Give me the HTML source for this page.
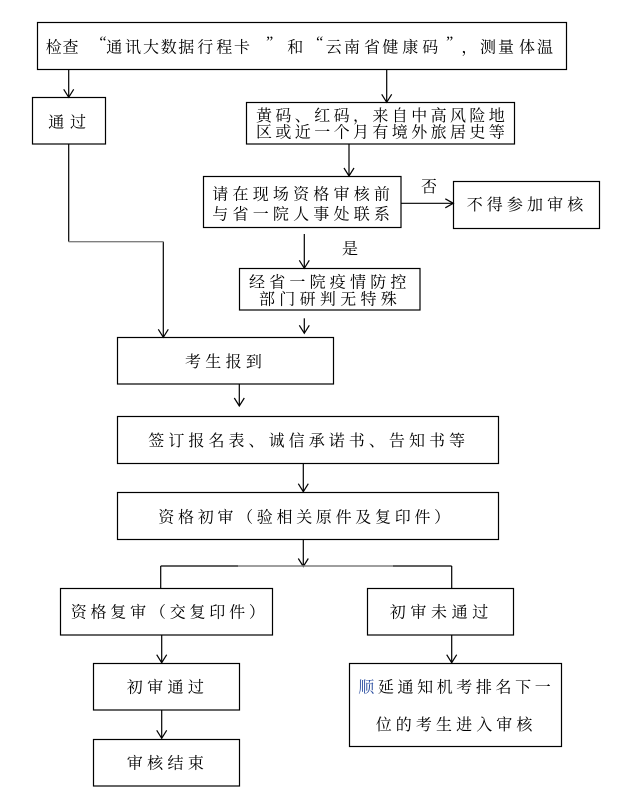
<!DOCTYPE html>
<html><head><meta charset="utf-8"><style>
html,body{margin:0;padding:0;background:#fff;}
svg{display:block;}
text{font-family:"Noto Serif CJK SC","Liberation Serif",serif;font-size:16px;fill:#000;}
.q{font-family:"Liberation Serif",serif;font-size:16px;}
</style></head><body>
<svg width="631" height="805" viewBox="0 0 631 805" xmlns="http://www.w3.org/2000/svg">
<g fill="none" stroke="#000" stroke-width="1.2">
<!-- boxes -->
<rect x="37.5" y="22.5" width="529" height="47"/>
<rect x="32.5" y="97.5" width="73" height="46.5"/>
<rect x="246.5" y="102.5" width="268" height="41.5"/>
<rect x="203.5" y="176.5" width="197.5" height="51"/>
<rect x="453.5" y="181.5" width="146" height="47"/>
<rect x="239.5" y="268.5" width="180.5" height="41.5"/>
<rect x="117.5" y="337.5" width="216" height="46.5"/>
<rect x="117.5" y="416.5" width="381" height="47"/>
<rect x="117.5" y="492.5" width="381" height="47"/>
<rect x="60.5" y="588.5" width="212" height="46.5"/>
<rect x="367.5" y="588.5" width="146" height="46.5"/>
<rect x="93.5" y="663.5" width="146" height="46.5"/>
<rect x="93.5" y="739.5" width="146" height="46.5"/>
<rect x="349.5" y="663.5" width="212" height="83"/>

<!-- connectors -->
<line x1="68.7" y1="69.5" x2="68.7" y2="97.3"/>
<polyline points="63.7,89.3 68.7,97.3 73.7,89.3"/>
<line x1="386.7" y1="69.5" x2="386.7" y2="102.3"/>
<polyline points="381.7,94.3 386.7,102.3 391.7,94.3"/>
<line x1="349" y1="144" x2="349" y2="176"/>
<polyline points="344,168 349,176 354,168"/>
<line x1="401" y1="203.3" x2="453.3" y2="203.3"/>
<polyline points="445.3,198.8 453.3,203.3 445.3,207.8"/>
<line x1="304.3" y1="234" x2="304.3" y2="268.3"/>
<polyline points="299.3,260.3 304.3,268.3 309.3,260.3"/>
<line x1="304.3" y1="318.3" x2="304.3" y2="333.3"/>
<polyline points="299.3,325.3 304.3,333.3 309.3,325.3"/>
<line x1="68.7" y1="144" x2="68.7" y2="241.7"/>
<line x1="163.3" y1="241.7" x2="163.3" y2="337.3"/>
<polyline points="158.3,329.3 163.3,337.3 168.3,329.3"/>
<line x1="239.3" y1="384" x2="239.3" y2="406"/>
<polyline points="234.3,398 239.3,406 244.3,398"/>
<line x1="303.3" y1="463.3" x2="303.3" y2="491.7"/>
<polyline points="298.3,483.7 303.3,491.7 308.3,483.7"/>
<line x1="303.3" y1="539.3" x2="303.3" y2="566.5"/>
<polyline points="298.3,558.5 303.3,566.5 308.3,558.5"/>
<line x1="160.7" y1="566" x2="238" y2="566"/>
<line x1="392.7" y1="566" x2="451.7" y2="566"/>
<line x1="160.7" y1="566" x2="160.7" y2="588.3"/>
<line x1="451.7" y1="566" x2="451.7" y2="588.3"/>
<line x1="161.7" y1="635" x2="161.7" y2="662.7"/>
<polyline points="156.7,654.7 161.7,662.7 166.7,654.7"/>
<line x1="161.7" y1="710" x2="161.7" y2="738.3"/>
<polyline points="156.7,730.3 161.7,738.3 166.7,730.3"/>
<line x1="451.7" y1="635" x2="451.7" y2="662.7"/>
<polyline points="446.7,654.7 451.7,662.7 456.7,654.7"/>
</g>
<g stroke="#7f7f7f" stroke-width="1.4" fill="none">
<line x1="68.7" y1="241.7" x2="163.3" y2="241.7"/>
<line x1="238" y1="566" x2="392.7" y2="566"/>
</g>

<!-- top text -->
<text x="45.7 62.5" y="52.5">检查</text>
<text class="q" x="99.4" y="47">“</text>
<text x="106.3 125 143 160.7 178.3 197.3 216.3 234" y="52.5">通讯大数据行程卡</text>
<text class="q" x="266.1" y="47">”</text>
<text x="287.3" y="52.5">和</text>
<text class="q" x="316.1" y="47">“</text>
<text x="325.7 344 364 382.3 402.3 422.3" y="52.5">云南省健康码</text>
<text class="q" x="446.1" y="47">”</text>
<text x="461.4 480 498 519 537" y="52.5">，测量体温</text>

<text x="48.3 70" y="127.7">通过</text>

<text x="256 275.4 294.8 314.2 333.6 353 372.4 391.8 411.2 430.6 450 469.4 488.8" y="121">黄码、红码，来自中高风险地</text>
<text x="256 275.4 294.8 314.2 333.6 353 372.4 391.8 411.2 430.6 450 469.4 488.8" y="137.7">区或近一个月有境外旅居史等</text>

<text x="212.3 232.5 252.7 272.9 293.1 313.3 333.5 353.7 373.9" y="199.3">请在现场资格审核前</text>
<text x="212.3 232.5 252.7 272.9 293.1 313.3 333.5 353.7 373.9" y="219.3">与省一院人事处联系</text>

<text x="421" y="192">否</text>
<text x="466.7 486.8 506.9 527 547.1 567.2" y="210">不得参加审核</text>

<text x="342" y="254">是</text>

<text x="249 269.2 289.4 309.6 329.8 350 370.2 390.4" y="287.7">经省一院疫情防控</text>
<text x="259 279.3 299.6 319.9 340.2 360.5 380.8" y="304.3">部门研判无特殊</text>

<text x="185 205.3 225.6 245.9" y="367">考生报到</text>

<text x="148.3 168.35 188.4 208.45 228.5 248.55 268.6 288.65 308.7 328.75 348.8 368.85 388.9 408.95 429 449.05" y="446">签订报名表、诚信承诺书、告知书等</text>

<text x="158.3 178 197.7 217.4 237.1 256.8 276.5 296.2 315.9 335.6 355.3 375 394.7 414.4 434.1" y="522.7">资格初审（验相关原件及复印件）</text>

<text x="70.7 90.5 110.3 130.1 149.9 169.7 189.5 209.3 229.1 248.9" y="617.7">资格复审（交复印件）</text>

<text x="389.7 410.35 431 451.65 472.3" y="617.7">初审未通过</text>

<text x="126.7 147.1 167.5 187.9" y="692.7">初审通过</text>
<text x="126.7 147.1 167.5 187.9" y="768.7">审核结束</text>

<text y="692.7"><tspan x="358.3" fill="#2b4ea0">顺</tspan><tspan x="377.9 397.5 417.1 436.7 456.3 475.9 495.5 515.1 534.7">延通知机考排名下一</tspan></text>
<text x="375.7 395.8 415.9 436 456.1 476.2 496.3 516.4" y="730">位的考生进入审核</text>
</svg>
</body></html>
